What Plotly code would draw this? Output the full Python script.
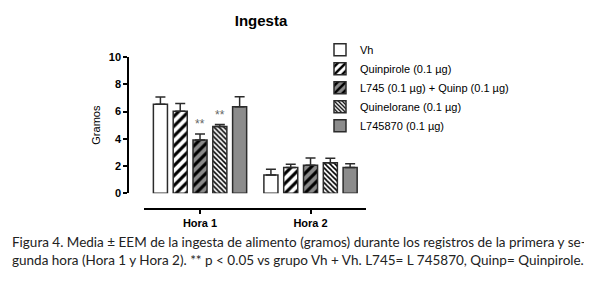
import plotly.graph_objects as go

categories = ["Hora 1", "Hora 2"]
series_names = ["Vh", "Quinpirole (0.1 µg)", "L745 (0.1 µg) + Quinp (0.1 µg)",
                "Quinelorane (0.1 µg)", "L745870 (0.1 µg)"]
means = [
    [6.54, 1.34],
    [6.02, 1.88],
    [3.90, 2.05],
    [4.89, 2.24],
    [6.35, 1.88],
]
errors = [
    [0.52, 0.42],
    [0.57, 0.24],
    [0.45, 0.54],
    [0.15, 0.32],
    [0.73, 0.28],
]
signif = [
    ["", ""],
    ["", ""],
    ["**", ""],
    ["**", ""],
    ["", ""],
]
y_ticks = [0, 2, 4, 6, 8, 10]
caption = ("Figura 4. Media ± EEM de la ingesta de alimento (gramos) durante los registros de la primera y se-<br>"
           "gunda hora (Hora 1 y Hora 2). ** p &lt; 0.05 vs grupo Vh + Vh. L745= L 745870, Quinp= Quinpirole.")

styles = [
    dict(bg="white", shape="", size=6, sol=0.4),
    dict(bg="white", shape="/", size=7, sol=0.45),
    dict(bg="#8a8a8a", shape="/", size=7, sol=0.45),
    dict(bg="white", shape="\\", size=3.5, sol=0.45),
    dict(bg="#8c8c8c", shape="", size=6, sol=0.4),
]

# page body has an 8px margin; figure is sized to fit the window
OFF = 8
W, H = 592 - OFF, 293 - OFF


def px(x):
    return (x - OFF) / W


def py(y):
    return 1 - (y - OFF) / H


BARGAP = 0.104
fig = go.Figure()
for i, name in enumerate(series_names):
    st = styles[i]
    fig.add_trace(go.Bar(
        x=categories, y=means[i], name=name,
        marker=dict(color=st["bg"], line=dict(color="#2b2b2b", width=1.5),
                    pattern=dict(shape=st["shape"], size=st["size"], solidity=st["sol"],
                                 fgcolor="black", bgcolor=st["bg"], fillmode="replace")),
        error_y=dict(type="data", symmetric=False, array=errors[i],
                     arrayminus=[0] * len(errors[i]), color="#2b2b2b",
                     thickness=1.5, width=5),
    ))

n = len(series_names)
slot = (1 - BARGAP) / n
for i in range(n):
    for j, cat in enumerate(categories):
        if signif[i][j]:
            fig.add_annotation(
                x=j + (i - (n - 1) / 2) * slot, y=means[i][j] + errors[i][j],
                text=signif[i][j], showarrow=False, yanchor="bottom", yshift=1,
                font=dict(family="Liberation Sans", size=12, color="#666"))

fig.add_annotation(
    x=px(10), y=py(236), xref="paper", yref="paper", xanchor="left", yanchor="top",
    text=caption, showarrow=False, align="left",
    font=dict(family="Lato", size=13.5, color="#222"))

fig.update_layout(
    width=W, height=H, margin=dict(l=0, r=0, t=0, b=0),
    paper_bgcolor="white", plot_bgcolor="white",
    barmode="group", bargap=BARGAP, bargroupgap=0.29,
    title=dict(text="<b>Ingesta</b>", x=px(261), xanchor="center", y=py(21), yanchor="middle",
               font=dict(family="Liberation Sans", size=15, color="black")),
    showlegend=True,
    legend=dict(x=px(320), y=py(85), xanchor="left", yanchor="middle",
                font=dict(family="Liberation Sans", size=11, color="black"),
                bgcolor="rgba(0,0,0,0)", tracegroupgap=0),
    xaxis=dict(domain=[px(144), px(366)], anchor="free", position=py(212),
               range=[-0.507, 1.502], showline=True, linecolor="black", linewidth=1.5,
               ticks="outside", ticklen=4, tickwidth=1.5, tickcolor="black",
               showgrid=False, zeroline=False,
               tickfont=dict(family="Liberation Sans", size=11, color="black", weight="bold")),
    yaxis=dict(domain=[py(195), py(53)], anchor="free", position=px(128),
               range=[0, 10], tickvals=y_ticks, showline=True, linecolor="black", linewidth=1.5,
               ticks="outside", ticklen=4, tickwidth=1.5, tickcolor="black",
               showgrid=False, zeroline=False,
               tickfont=dict(family="Liberation Sans", size=11, color="black", weight="bold"),
               title=dict(text="Gramos", standoff=5,
                          font=dict(family="Liberation Sans", size=11, color="black"))),
)

fig.write_html("out.html")
